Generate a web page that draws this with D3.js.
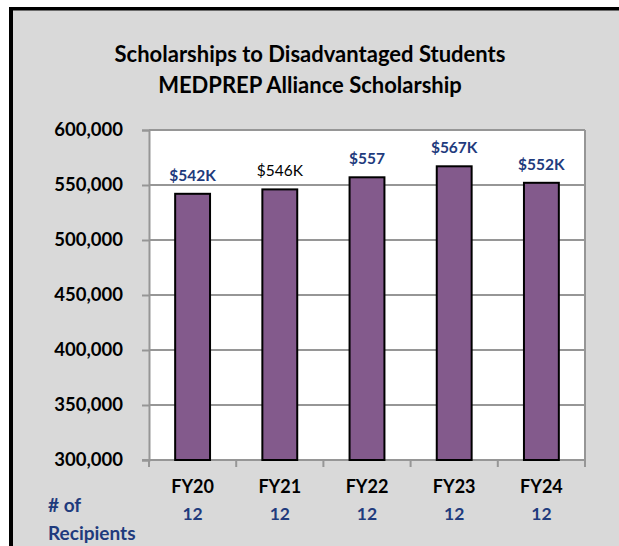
<!DOCTYPE html>
<head>
    <script src="https://d3js.org/d3.v7.min.js"></script>
    <style>
        body { margin: 0; background: #fff; }
        text { font-family: Lato, "Noto Sans", sans-serif; }
    </style>
</head>
<body>
    <svg></svg>
</body>

<script>
    // Data
    var years = ["FY20", "FY21", "FY22", "FY23", "FY24"];
    var amounts = [542000, 546000, 557000, 567000, 552000];
    var amountLabels = ["$542K", "$546K", "$557", "$567K", "$552K"];
    var recipients = [12, 12, 12, 12, 12];
    var yTicks = [300000, 350000, 400000, 450000, 500000, 550000, 600000];
    var titleLines = ["Scholarships to Disadvantaged Students", "MEDPREP Alliance Scholarship"];
    var plainLabelYears = ["FY21"];   // this label is plain black in the original

    // Variables
    var width = 619;
    var height = 546;
    var margin = {top: 130, right: 34, bottom: 86, left: 149};
    var innerW = width - margin.left - margin.right;
    var innerH = height - margin.top - margin.bottom;
    var blue = "#1f3b7d";
    var gridColor = "#969696";

    var svg = d3.select('svg')
        .attr('width', width)
        .attr('height', height);

    // Panel background and its black frame (top + left)
    svg.append('rect')
        .attr('x', 9).attr('y', 7)
        .attr('width', width - 9).attr('height', height - 7)
        .attr('fill', '#d9d9d9');
    svg.append('rect')
        .attr('x', 9).attr('y', 7)
        .attr('width', width - 9).attr('height', 3.5)
        .attr('fill', '#000');
    svg.append('rect')
        .attr('x', 9).attr('y', 7)
        .attr('width', 4).attr('height', height - 7)
        .attr('fill', '#000');

    // Title
    svg.append('g').selectAll('text')
        .data(titleLines)
        .enter().append('text')
        .attr('x', 310)
        .attr('y', function (d, i) { return 62 + i * 31; })
        .attr('text-anchor', 'middle')
        .style('font-size', '22px')
        .style('font-weight', 'bold')
        .style('fill', '#000')
        .text(function (d) { return d; });

    // Scales
    var x = d3.scaleBand()
        .domain(years)
        .range([0, innerW])
        .paddingInner(0.6)
        .paddingOuter(0.3);

    var y = d3.scaleLinear()
        .domain([300000, 600000])
        .range([innerH, 0]);

    var g = svg.append('g')
        .attr('transform', 'translate(' + margin.left + ',' + margin.top + ')');

    // Plot area
    g.append('rect')
        .attr('width', innerW)
        .attr('height', innerH)
        .attr('fill', '#fff');

    // Gridlines
    g.append('g').selectAll('line')
        .data(yTicks)
        .enter().append('line')
        .attr('x1', 0).attr('x2', innerW)
        .attr('y1', function (d) { return y(d); })
        .attr('y2', function (d) { return y(d); })
        .attr('stroke', gridColor)
        .attr('stroke-width', 2);

    // Right edge of plot area
    g.append('line')
        .attr('x1', innerW).attr('x2', innerW)
        .attr('y1', 0).attr('y2', innerH)
        .attr('stroke', gridColor)
        .attr('stroke-width', 2);

    // Y axis
    var yAxis = g.append('g')
        .call(d3.axisLeft(y).tickValues(yTicks).tickFormat(d3.format(',')).tickSize(7).tickPadding(19));
    yAxis.select('.domain').attr('stroke', gridColor).attr('stroke-width', 2);
    yAxis.selectAll('.tick line').attr('stroke', gridColor).attr('stroke-width', 2);
    yAxis.selectAll('.tick text')
        .style('font-size', '18.5px')
        .style('font-weight', 'bold')
        .style('fill', '#000')
        .style('font-family', 'Lato, sans-serif');

    // X axis with ticks at band boundaries
    var bounds = years.map(function (d) { return x(d) - x.step() * x.paddingInner() / 2; });
    bounds.push(innerW);
    g.append('line')
        .attr('x1', -7).attr('x2', innerW)
        .attr('y1', innerH).attr('y2', innerH)
        .attr('stroke', gridColor)
        .attr('stroke-width', 2);
    g.append('g').selectAll('line')
        .data(bounds)
        .enter().append('line')
        .attr('x1', function (d) { return d; })
        .attr('x2', function (d) { return d; })
        .attr('y1', innerH).attr('y2', innerH + 7)
        .attr('stroke', gridColor)
        .attr('stroke-width', 2);

    // Bars
    g.append('g').selectAll('rect')
        .data(amounts)
        .enter().append('rect')
        .attr('x', function (d, i) { return x(years[i]); })
        .attr('y', function (d) { return y(d); })
        .attr('width', x.bandwidth())
        .attr('height', function (d) { return innerH - y(d); })
        .attr('fill', '#835a8c')
        .attr('stroke', '#000')
        .attr('stroke-width', 2);

    // Value labels
    g.append('g').selectAll('text')
        .data(amountLabels)
        .enter().append('text')
        .attr('x', function (d, i) { return x(years[i]) + x.bandwidth() / 2; })
        .attr('y', function (d, i) { return y(amounts[i]) - 13; })
        .attr('text-anchor', 'middle')
        .style('font-size', '15.5px')
        .style('font-weight', function (d, i) { return plainLabelYears.indexOf(years[i]) >= 0 ? 'normal' : 'bold'; })
        .style('fill', function (d, i) { return plainLabelYears.indexOf(years[i]) >= 0 ? '#000' : blue; })
        .text(function (d) { return d; });

    // Category labels
    g.append('g').selectAll('text')
        .data(years)
        .enter().append('text')
        .attr('x', function (d) { return x(d) + x.bandwidth() / 2; })
        .attr('y', innerH + 33)
        .attr('text-anchor', 'middle')
        .style('font-size', '18px')
        .style('font-weight', 'bold')
        .style('fill', '#000')
        .text(function (d) { return d; });

    // Recipients row
    g.append('g').selectAll('text')
        .data(recipients)
        .enter().append('text')
        .attr('x', function (d, i) { return x(years[i]) + x.bandwidth() / 2; })
        .attr('y', innerH + 60)
        .attr('text-anchor', 'middle')
        .style('font-size', '17.5px')
        .style('font-weight', 'bold')
        .style('fill', blue)
        .text(function (d) { return d; });

    svg.append('g').selectAll('text')
        .data(["# of", "Recipients"])
        .enter().append('text')
        .attr('x', 48)
        .attr('y', function (d, i) { return 512 + i * 28; })
        .style('font-size', '19px')
        .style('font-weight', 'bold')
        .style('fill', blue)
        .text(function (d) { return d; });
</script>
